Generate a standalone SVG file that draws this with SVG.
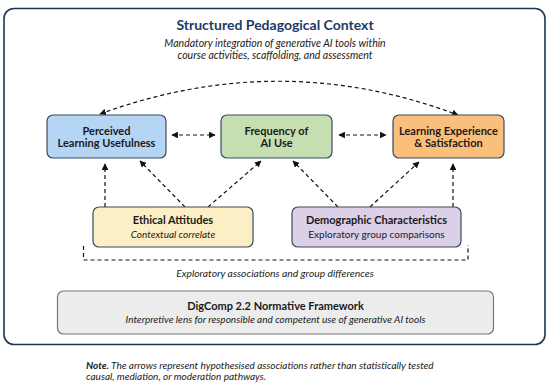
<svg xmlns="http://www.w3.org/2000/svg" width="550" height="382" viewBox="0 0 550 382">
<defs>
<marker id="ah" viewBox="0 0 10 10" refX="9" refY="5" markerWidth="5.5" markerHeight="5.5" orient="auto-start-reverse">
<path d="M0,0 L10,5 L0,10 z" fill="#111"/>
</marker>
<style>
text{font-family:Lato,"Open Sans","DejaVu Sans",sans-serif;fill:#1a1a1a;text-anchor:middle}
.b{font-weight:bold;font-size:11px}
.i{font-style:italic;font-size:10px}
.node{stroke:#3b4a5e;stroke-width:1.2}
.c{fill:none;stroke:#111;stroke-width:1.2;stroke-dasharray:4 3}
</style>
</defs>
<rect x="0" y="0" width="550" height="382" fill="#fff"/>
<g id="context">
<rect x="4" y="8.5" width="541" height="336" rx="10" fill="#fff" stroke="#1d3557" stroke-width="1.6"/>
<text x="275" y="29.5" style="font-weight:bold;font-size:14px;fill:#1f3a68">Structured Pedagogical Context</text>
<text x="275" y="46.5" class="i" style="font-size:10.5px">Mandatory integration of generative AI tools within</text>
<text x="275" y="58.5" class="i" style="font-size:10.5px">course activities, scaffolding, and assessment</text>
</g>
<g id="connectors">
<path class="c" d="M100,114 Q280,48 458,115" marker-start="url(#ah)" marker-end="url(#ah)"/>
<line class="c" x1="172" y1="135" x2="215" y2="135" marker-start="url(#ah)" marker-end="url(#ah)"/>
<line class="c" x1="339" y1="135" x2="386" y2="135" marker-start="url(#ah)" marker-end="url(#ah)"/>
<line class="c" x1="105" y1="207" x2="105" y2="164" marker-end="url(#ah)"/>
<line class="c" x1="185" y1="207" x2="140" y2="161" marker-end="url(#ah)"/>
<line class="c" x1="208" y1="207" x2="261" y2="161" marker-end="url(#ah)"/>
<line class="c" x1="338" y1="207" x2="293" y2="161" marker-end="url(#ah)"/>
<line class="c" x1="370" y1="207" x2="419" y2="162" marker-end="url(#ah)"/>
<line class="c" x1="453" y1="207" x2="453" y2="164" marker-end="url(#ah)"/>
<path class="c" d="M83.5,246 V260 H468 V245"/>
<text x="275" y="277" class="i" style="font-size:10.3px">Exploratory associations and group differences</text>
</g>
<g id="perceived">
<rect class="node" x="47" y="115" width="119" height="43" rx="6" fill="#b5d5f5"/>
<text x="106.5" y="134.5" class="b">Perceived</text>
<text x="106.5" y="147" class="b">Learning Usefulness</text>
</g>
<g id="frequency">
<rect class="node" x="221" y="115" width="111" height="43" rx="6" fill="#c6dfb2"/>
<text x="276.5" y="134.5" class="b">Frequency of</text>
<text x="276.5" y="147" class="b">AI Use</text>
</g>
<g id="experience">
<rect class="node" x="393" y="115" width="111" height="43" rx="6" fill="#fbbf7c"/>
<text x="448.5" y="134.5" class="b">Learning Experience</text>
<text x="448.5" y="147" class="b">&amp; Satisfaction</text>
</g>
<g id="ethical">
<rect class="node" x="93" y="207" width="160" height="40" rx="6" fill="#fcefc6"/>
<text x="173" y="224" class="b">Ethical Attitudes</text>
<text x="173" y="237.5" class="i">Contextual correlate</text>
</g>
<g id="demographic">
<rect class="node" x="292" y="207" width="169" height="40" rx="6" fill="#dccfe8"/>
<text x="376.5" y="224" class="b">Demographic Characteristics</text>
<text x="376.5" y="237.5" style="font-size:10px">Exploratory group comparisons</text>
</g>
<g id="digcomp">
<rect x="57.5" y="291" width="436" height="43" rx="6" fill="#ececec" stroke="#777" stroke-width="1.2"/>
<text x="275.5" y="309.5" class="b">DigComp 2.2 Normative Framework</text>
<text x="275.5" y="323" class="i">Interpretive lens for responsible and competent use of generative AI tools</text>
</g>
<g id="note">
<text x="86" y="369" style="text-anchor:start;font-size:10px;font-style:italic"><tspan font-weight="bold">Note.</tspan> The arrows represent hypothesised associations rather than statistically tested</text>
<text x="86" y="380" style="text-anchor:start;font-size:10px;font-style:italic">causal, mediation, or moderation pathways.</text>
</g>
</svg>
